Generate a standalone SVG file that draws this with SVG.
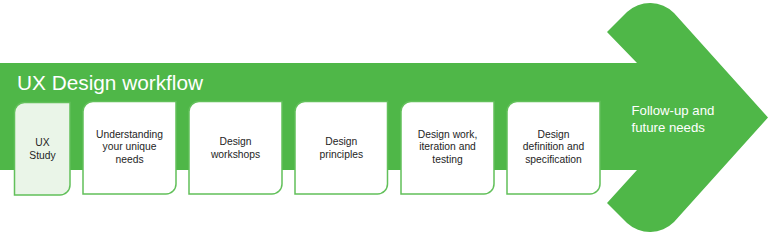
<svg xmlns="http://www.w3.org/2000/svg" width="768" height="234" viewBox="0 0 768 234">
<style>
.box{fill:#ffffff;stroke:#62c05a;stroke-width:1.5}
.first{fill:#eaf5e8}
.lbl{font-family:"Liberation Sans",Arial,sans-serif;font-size:10.3px;fill:#1e1e1e;text-anchor:middle}
.wt{font-family:"Liberation Sans",Arial,sans-serif;fill:#ffffff}
</style>
<rect width="768" height="234" fill="#ffffff"/>
<g id="arrow">
<path d="M0,63 H637 L607,32 L627,12 A34,34 0 0 1 674,13 L768,117.5 L674,222 A34,34 0 0 1 627,223 L607,203 L637,170 H0 Z" fill="#4fb748"/>
<text class="wt" x="17" y="90" font-size="20.8">UX Design workflow</text>
</g>
<g id="n1">
<path class="box first" d="M14.5,112.5 A10,10 0 0 1 24.5,102.5 H70 V185 A10,10 0 0 1 60,195 H14.5 Z"/>
<text class="lbl" x="42.5" y="146.3">UX</text>
<text class="lbl" x="42.5" y="159">Study</text>
</g>
<g id="n2">
<path class="box" d="M83,111.5 A10,10 0 0 1 93,101.5 H176 V184 A10,10 0 0 1 166,194 H83 Z"/>
<text class="lbl" x="129.5" y="137.7">Understanding</text>
<text class="lbl" x="129.5" y="150.3">your unique</text>
<text class="lbl" x="129.5" y="162.8">needs</text>
</g>
<g id="n3">
<path class="box" d="M189,111.5 A10,10 0 0 1 199,101.5 H282 V184 A10,10 0 0 1 272,194 H189 Z"/>
<text class="lbl" x="235.5" y="145.3">Design</text>
<text class="lbl" x="235.5" y="157.8">workshops</text>
</g>
<g id="n4">
<path class="box" d="M295,111.5 A10,10 0 0 1 305,101.5 H387.5 V184 A10,10 0 0 1 377.5,194 H295 Z"/>
<text class="lbl" x="341.3" y="145.3">Design</text>
<text class="lbl" x="341.3" y="157.8">principles</text>
</g>
<g id="n5">
<path class="box" d="M401,111.5 A10,10 0 0 1 411,101.5 H494 V184 A10,10 0 0 1 484,194 H401 Z"/>
<text class="lbl" x="447.5" y="137.7">Design work,</text>
<text class="lbl" x="447.5" y="150.3">iteration and</text>
<text class="lbl" x="447.5" y="162.8">testing</text>
</g>
<g id="n6">
<path class="box" d="M507,111.5 A10,10 0 0 1 517,101.5 H600 V184 A10,10 0 0 1 590,194 H507 Z"/>
<text class="lbl" x="553.5" y="137.7">Design</text>
<text class="lbl" x="553.5" y="150.3">definition and</text>
<text class="lbl" x="553.5" y="162.8">specification</text>
</g>
<g id="n7">
<text class="wt" x="631.5" y="115" font-size="13.2">Follow-up and</text>
<text class="wt" x="631.5" y="131.5" font-size="13.2">future needs</text>
</g>
<g id="connectors"/>
</svg>
